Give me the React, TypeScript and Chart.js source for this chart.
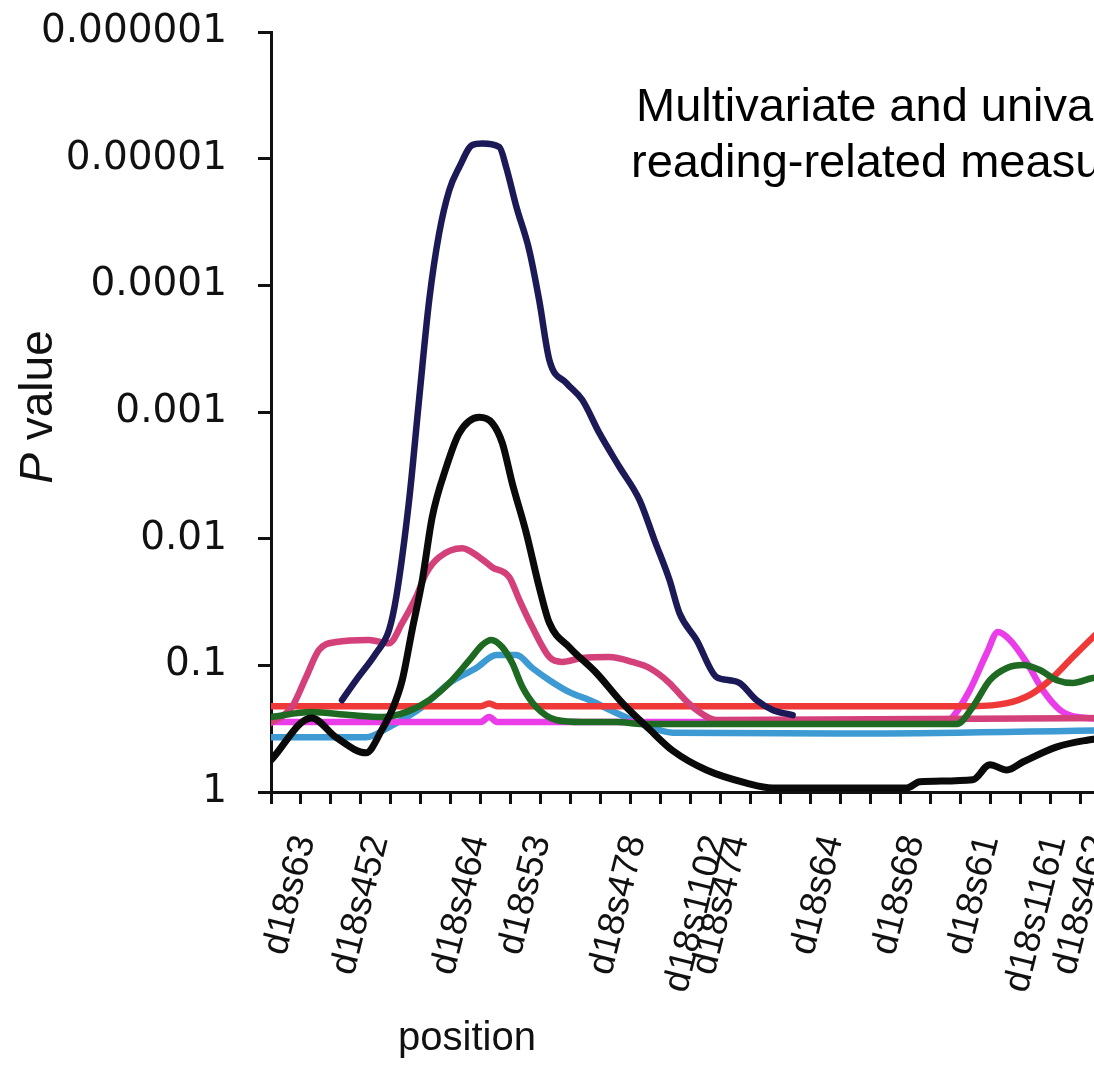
import React, { useEffect, useRef } from 'react';
import { Chart, registerables } from 'chart.js';

Chart.register(...registerables);

// ---- axis content ----
const markerNames = ['d18s63', 'd18s452', 'd18s464', 'd18s53', 'd18s478', 'd18s1102', 'd18s474', 'd18s64', 'd18s68', 'd18s61', 'd18s1161', 'd18s462'];
const markerPositions = [1.13, 3.57, 6.91, 8.98, 12.16, 14.83, 15.6, 18.74, 21.45, 23.95, 26.19, 27.63];
const tickPositions = [0, 1, 2, 3, 4, 5, 6, 7, 8, 9, 10, 11, 12, 13, 14, 15, 16, 17, 18, 19, 20, 21, 22, 23, 24, 25, 26, 27, 28];
const yTickValues = [1, 0.1, 0.01, 0.001, 0.0001, 0.00001, 0.000001];
const yTickLabels = ['1', '0.1', '0.01', '0.001', '0.0001', '0.00001', '0.000001'];
const titleLines = ['Multivariate and univariate QTL analysis of', 'reading-related measures'];
const xTitle = 'position';

// ---- series (position, P value) ----
const blackPos = [0, 1.35, 2.17, 3.17, 3.71, 4.04, 4.38, 4.71, 5.05, 5.38, 5.85, 6.28, 6.95, 7.38, 7.72, 8.05, 8.52, 8.95, 9.29, 9.96, 10.86, 11.73, 12.63, 13.4, 14.53, 15.87, 16.74, 21.22, 21.65, 23.42, 23.99, 24.56, 25.09, 26.23, 27.23, 28];
const blackP = [0.56, 0.26, 0.37, 0.49, 0.32, 0.225, 0.131, 0.0526, 0.0212, 0.00676, 0.00272, 0.00147, 0.0011, 0.00122, 0.00176, 0.00364, 0.00903, 0.0241, 0.0463, 0.072, 0.115, 0.199, 0.32, 0.47, 0.67, 0.85, 0.93, 0.93, 0.83, 0.8, 0.61, 0.67, 0.58, 0.44, 0.39, 0.37];

const navyPos = [2.37, 2.84, 3.51, 3.94, 4.18, 4.61, 4.94, 5.28, 5.61, 5.95, 6.28, 6.72, 7.05, 7.62, 7.85, 8.19, 8.62, 8.95, 9.29, 9.86, 10.39, 10.96, 11.63, 12.3, 12.8, 13.3, 13.63, 14.2, 14.87, 15.3, 15.64, 16.2, 16.74, 17.41];
const navyP = [0.188, 0.131, 0.08, 0.0526, 0.0289, 0.00496, 0.000805, 0.000131, 0.000039, 0.0000177, 0.0000117, 0.0000078, 0.0000076, 0.0000081, 0.0000117, 0.000024, 0.000053, 0.000131, 0.000389, 0.000591, 0.000805, 0.00147, 0.00272, 0.00496, 0.0103, 0.0212, 0.0386, 0.063, 0.124, 0.131, 0.138, 0.188, 0.225, 0.247];

const pinkPos = [0, 0.7, 1.17, 1.6, 2.17, 3.27, 3.94, 4.38, 4.84, 5.18, 5.61, 6.38, 6.95, 7.38, 7.95, 8.29, 8.72, 9.29, 9.72, 10.39, 11.29, 12.06, 12.63, 13.3, 13.73, 14.2, 14.87, 28];
const pinkP = [0.285, 0.213, 0.124, 0.0757, 0.0655, 0.063, 0.067, 0.0463, 0.029, 0.0187, 0.014, 0.0119, 0.014, 0.0168, 0.0201, 0.0305, 0.0499, 0.086, 0.094, 0.0875, 0.086, 0.094, 0.105, 0.138, 0.178, 0.225, 0.27, 0.26];

const cyanPos = [0, 3.17, 3.94, 5.05, 5.95, 6.85, 7.52, 8.19, 8.72, 9.29, 9.96, 10.62, 11.53, 12.3, 13.4, 20, 28];
const cyanP = [0.37, 0.37, 0.307, 0.213, 0.138, 0.105, 0.083, 0.083, 0.105, 0.131, 0.163, 0.188, 0.238, 0.285, 0.34, 0.345, 0.325];

const greenPos = [0, 1.35, 2.61, 3.71, 4.51, 5.28, 5.95, 6.62, 7.05, 7.35, 7.72, 8.05, 8.39, 8.85, 9.52, 10.39, 11.53, 12.4, 22.89, 23.42, 23.99, 24.56, 25.09, 25.66, 26.23, 26.76, 27.43, 28];
const greenP = [0.256, 0.234, 0.247, 0.256, 0.234, 0.188, 0.138, 0.091, 0.069, 0.063, 0.072, 0.096, 0.148, 0.213, 0.27, 0.28, 0.28, 0.29, 0.29, 0.213, 0.131, 0.105, 0.0995, 0.109, 0.131, 0.138, 0.126, 0.124];

const redPos = [0, 7.0, 7.28, 7.55, 23.42, 24.56, 25.33, 25.99, 26.76, 27.43, 28];
const redP = [0.21, 0.21, 0.2, 0.21, 0.21, 0.199, 0.171, 0.131, 0.086, 0.06, 0.045];

const magentaPos = [0, 7.0, 7.28, 7.55, 22.5, 22.75, 23.32, 23.89, 24.26, 24.66, 25.23, 25.76, 26.33, 26.9, 28];
const magentaP = [0.28, 0.28, 0.256, 0.28, 0.28, 0.256, 0.157, 0.08, 0.0546, 0.063, 0.096, 0.157, 0.225, 0.256, 0.265];

const toPoints = (xs: number[], ps: number[]) => xs.map((x, i) => ({ x, y: ps[i] }));

const AXIS_COLOR = '#111';
const TICK_FONT = "'Liberation Sans', Arial, sans-serif";
const YTICK_FONT = "'DejaVu Sans', sans-serif";
const TEXT_FONT = "'Liberation Sans', Arial, sans-serif";

const textPlugin = {
  id: 'slideTexts',
  afterDraw(chart: any) {
    const ctx = chart.ctx as CanvasRenderingContext2D;
    ctx.save();
    ctx.fillStyle = '#000';
    ctx.textBaseline = 'alphabetic';
    ctx.textAlign = 'left';
    ctx.font = `47px ${TEXT_FONT}`;
    ctx.fillText(titleLines[0], 636, 121);
    ctx.fillText(titleLines[1], 631, 177);

    ctx.fillStyle = AXIS_COLOR;
    ctx.font = `40px ${TEXT_FONT}`;
    ctx.textAlign = 'center';
    ctx.fillText(xTitle, 467, 1050);

    ctx.translate(52, 407);
    ctx.rotate(-Math.PI / 2);
    const italic = `italic 46px ${TEXT_FONT}`;
    const normal = `46px ${TEXT_FONT}`;
    ctx.font = italic;
    const w1 = ctx.measureText('P').width;
    ctx.font = normal;
    const w2 = ctx.measureText(' value').width;
    const start = -(w1 + w2) / 2;
    ctx.textAlign = 'left';
    ctx.font = italic;
    ctx.fillText('P', start, 0);
    ctx.font = normal;
    ctx.fillText(' value', start + w1, 0);
    ctx.restore();
  },
};

export default function App() {
  const canvasRef = useRef<HTMLCanvasElement | null>(null);

  useEffect(() => {
    const canvas = canvasRef.current;
    if (!canvas) return;
    const mk = (label: string, xs: number[], ps: number[], color: string, width: number) => ({
      label,
      data: toPoints(xs, ps),
      borderColor: color,
      backgroundColor: color,
      borderWidth: width,
      pointRadius: 0,
      fill: false,
      cubicInterpolationMode: 'monotone' as const,
      borderCapStyle: 'round' as const,
      borderJoinStyle: 'round' as const,
    });
    const chart = new Chart(canvas, {
      type: 'line',
      data: {
        datasets: [
          mk('black', blackPos, blackP, '#0a0a0a', 7),
          mk('navy', navyPos, navyP, '#1c1a56', 6.5),
          mk('green', greenPos, greenP, '#1f6a23', 6.5),
          mk('pink', pinkPos, pinkP, '#d4407a', 6.5),
          mk('red', redPos, redP, '#ef3838', 6.5),
          mk('magenta', magentaPos, magentaP, '#ea3ce8', 6.5),
          mk('cyan', cyanPos, cyanP, '#3d9ad3', 6.5),
        ],
      },
      options: {
        responsive: false,
        animation: false,
        devicePixelRatio: 1,
        layout: { padding: { top: 32, left: 0, right: 50, bottom: 0 } },
        plugins: {
          legend: { display: false },
          tooltip: { enabled: false },
          title: { display: false },
        },
        scales: {
          x: {
            type: 'linear',
            min: 0,
            max: 28,
            afterBuildTicks: (scale: any) => {
              const vals = [...tickPositions, ...markerPositions].sort((a, b) => a - b);
              scale.ticks = vals.map((v) => ({ value: v }));
            },
            afterFit: (scale: any) => {
              scale.height = 1070 - 792;
              scale.paddingLeft = 0;
              scale.paddingRight = 0;
              scale.paddingTop = 0;
              scale.paddingBottom = 0;
            },
            ticks: {
              autoSkip: false,
              minRotation: 76,
              maxRotation: 76,
              padding: 27,
              color: AXIS_COLOR,
              font: { family: TICK_FONT, size: 37 },
              callback: (value: any) => {
                const i = markerPositions.indexOf(Number(value));
                return i >= 0 ? markerNames[i] : '';
              },
            },
            grid: {
              display: true,
              drawOnChartArea: false,
              drawTicks: true,
              tickLength: 12,
              tickWidth: 3,
              tickColor: (ctx: any) =>
                ctx.tick && markerPositions.indexOf(ctx.tick.value) >= 0 ? 'rgba(0,0,0,0)' : AXIS_COLOR,
            },
            border: { display: true, color: AXIS_COLOR, width: 3 },
          },
          y: {
            type: 'logarithmic',
            reverse: true,
            min: 0.000001,
            max: 1,
            afterBuildTicks: (scale: any) => {
              scale.ticks = yTickValues.map((v) => ({ value: v }));
            },
            afterFit: (scale: any) => {
              scale.width = 271;
              scale.paddingLeft = 0;
              scale.paddingRight = 0;
              scale.paddingTop = 0;
              scale.paddingBottom = 0;
            },
            ticks: {
              autoSkip: false,
              padding: 31,
              color: AXIS_COLOR,
              font: { family: YTICK_FONT, size: 39 },
              callback: (value: any) => {
                const i = yTickValues.indexOf(Number(value));
                return i >= 0 ? yTickLabels[i] : '';
              },
            },
            grid: {
              display: true,
              drawOnChartArea: false,
              drawTicks: true,
              tickLength: 13,
              tickWidth: 3,
              tickColor: AXIS_COLOR,
            },
            border: { display: true, color: AXIS_COLOR, width: 3 },
          },
        },
      } as any,
      plugins: [textPlugin],
    });
    return () => chart.destroy();
  }, []);

  return (
    <div
      style={{
        position: 'fixed',
        left: 0,
        top: 0,
        width: 1094,
        height: 1070,
        overflow: 'hidden',
        background: '#ffffff',
      }}
    >
      <canvas
        ref={canvasRef}
        width={1160}
        height={1070}
        style={{ display: 'block', width: 1160, height: 1070 }}
      />
    </div>
  );
}
